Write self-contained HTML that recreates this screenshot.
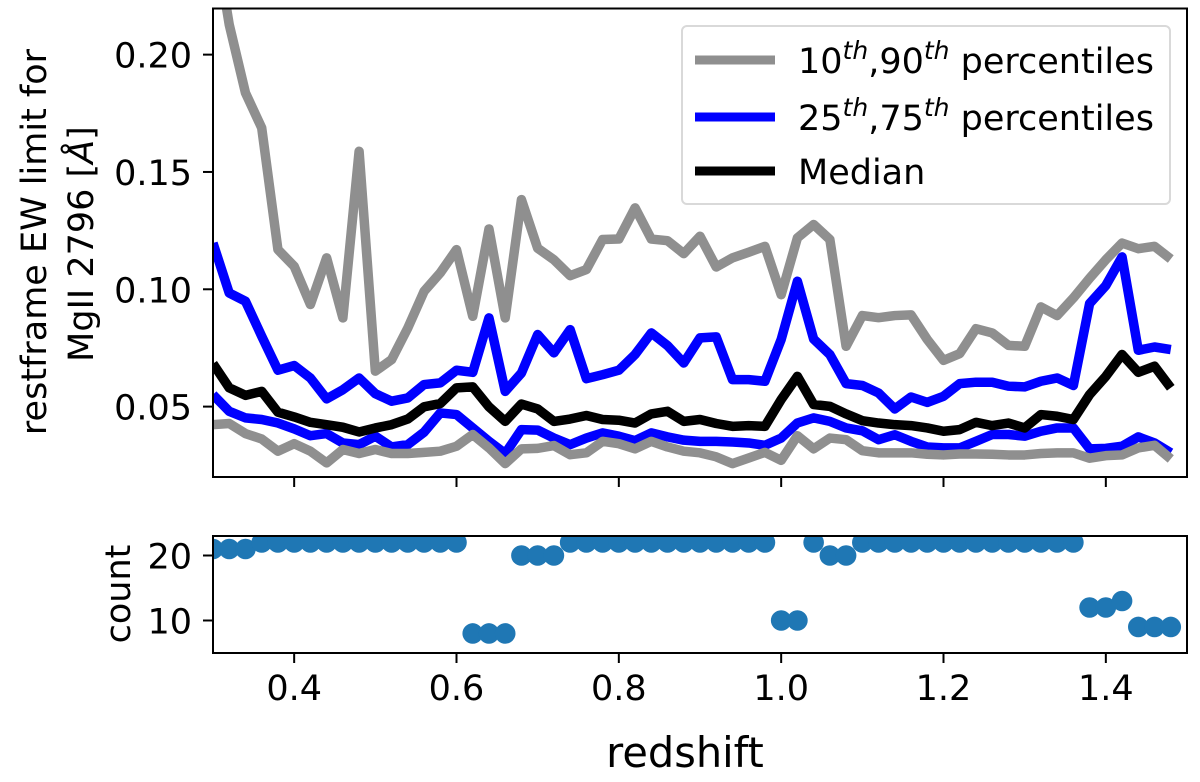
<!DOCTYPE html>
<html lang="en">
<head>
<meta charset="utf-8">
<title>Restframe EW limit for MgII 2796 vs redshift</title>
<style>
html,body{margin:0;padding:0;background:#fff;}
svg{display:block;font-family:"DejaVu Sans","Liberation Sans",sans-serif;fill:#000;}
</style>
</head>
<body>
<svg id="chart" xmlns="http://www.w3.org/2000/svg" width="1200" height="782" viewBox="0 0 1200 782">
  <defs>
    <clipPath id="clip-top"><rect x="213" y="8" width="974" height="469"/></clipPath>
    <clipPath id="clip-bottom"><rect x="213" y="536" width="974" height="117"/></clipPath>
  </defs>
  <rect x="0" y="0" width="1200" height="782" fill="#fff"/>
  <g id="top-marks" clip-path="url(#clip-top)"></g>
  <g id="bottom-marks" clip-path="url(#clip-bottom)"></g>
  <g id="ticks"></g>
  <rect x="213" y="8.5" width="974" height="468.5" fill="none" stroke="#000" stroke-width="2"/>
  <rect x="213" y="536" width="974" height="117" fill="none" stroke="#000" stroke-width="2"/>

  <g>
    <rect x="682" y="26" width="488" height="178" rx="5" fill="#fff" fill-opacity="0.8" stroke="#d9d9d9" stroke-width="2"/>
    <line x1="695" x2="775" y1="60" y2="60" stroke="#8f8f8f" stroke-width="9"/>
    <line x1="695" x2="775" y1="117" y2="117" stroke="#0000ff" stroke-width="9"/>
    <line x1="695" x2="775" y1="171" y2="171" stroke="#000" stroke-width="9"/>
    <text x="798" y="73" font-size="35">10<tspan dy="-14" font-size="25" font-style="italic">th</tspan><tspan dy="14">,90</tspan><tspan dy="-14" font-size="25" font-style="italic">th</tspan><tspan dy="14"> percentiles</tspan></text>
    <text x="798" y="130" font-size="35">25<tspan dy="-14" font-size="25" font-style="italic">th</tspan><tspan dy="14">,75</tspan><tspan dy="-14" font-size="25" font-style="italic">th</tspan><tspan dy="14"> percentiles</tspan></text>
    <text x="798" y="184" font-size="35">Median</text>
  </g>

  <text transform="translate(46,242) rotate(-90)" text-anchor="middle" font-size="35">restframe EW limit for</text>
  <text transform="translate(93,244) rotate(-90)" text-anchor="middle" font-size="35">MgII 2796 [<tspan font-style="italic">Å</tspan>]</text>
  <text transform="translate(130,594) rotate(-90)" text-anchor="middle" font-size="35">count</text>
  <text x="685" y="767" text-anchor="middle" font-size="41.5">redshift</text>
</svg>
<script>
const redshift = [0.30,0.32,0.34,0.36,0.38,0.40,0.42,0.44,0.46,0.48,0.50,0.52,0.54,0.56,0.58,0.60,0.62,0.64,0.66,0.68,0.70,0.72,0.74,0.76,0.78,0.80,0.82,0.84,0.86,0.88,0.90,0.92,0.94,0.96,0.98,1.00,1.02,1.04,1.06,1.08,1.10,1.12,1.14,1.16,1.18,1.20,1.22,1.24,1.26,1.28,1.30,1.32,1.34,1.36,1.38,1.40,1.42,1.44,1.46,1.48];
const p90 = [0.255,0.2128,0.1837,0.1688,0.1169,0.1098,0.0935,0.1134,0.0878,0.1588,0.0651,0.07,0.0835,0.0991,0.107,0.1169,0.0885,0.1257,0.0878,0.1382,0.1175,0.1126,0.1058,0.1084,0.1212,0.1214,0.1347,0.1214,0.1207,0.1152,0.1226,0.1095,0.1134,0.1158,0.1183,0.0977,0.1219,0.1276,0.1212,0.0757,0.0888,0.0879,0.0888,0.0891,0.0786,0.0697,0.0726,0.0832,0.0814,0.0761,0.0757,0.0925,0.0888,0.0963,0.1047,0.1126,0.1197,0.1173,0.1183,0.1129];
const p75 = [0.1197,0.0984,0.0949,0.08,0.0655,0.0675,0.0622,0.0533,0.0572,0.0622,0.0555,0.0523,0.0537,0.0594,0.0601,0.0655,0.0646,0.0878,0.0565,0.0643,0.0807,0.0729,0.0828,0.0619,0.0636,0.0655,0.0722,0.0814,0.076,0.0686,0.0793,0.0797,0.0615,0.0615,0.0608,0.0786,0.1034,0.0788,0.0722,0.0598,0.059,0.0558,0.049,0.0541,0.0518,0.0544,0.0598,0.0604,0.0604,0.0587,0.0584,0.0608,0.0622,0.059,0.0939,0.1016,0.1138,0.074,0.0754,0.0743];
const median = [0.0683,0.058,0.0548,0.0565,0.0476,0.0456,0.0433,0.0423,0.0412,0.0392,0.0409,0.0423,0.0447,0.0499,0.0513,0.058,0.0584,0.0499,0.0437,0.0511,0.049,0.0437,0.0447,0.0462,0.0445,0.0442,0.043,0.0469,0.048,0.0437,0.0445,0.0428,0.0416,0.0419,0.0416,0.053,0.0629,0.0509,0.0501,0.0469,0.044,0.043,0.0423,0.0419,0.0409,0.0395,0.0402,0.0433,0.0419,0.043,0.0409,0.0466,0.0459,0.0445,0.0551,0.0629,0.0722,0.0646,0.0672,0.058];
const p25 = [0.0551,0.048,0.0452,0.0445,0.043,0.0405,0.0376,0.0385,0.0345,0.0338,0.0374,0.0328,0.0338,0.0391,0.0473,0.0466,0.0409,0.0352,0.03,0.0402,0.04,0.0366,0.0338,0.0366,0.0388,0.0374,0.0355,0.0388,0.0371,0.0357,0.0352,0.0352,0.0349,0.0345,0.0335,0.0366,0.043,0.0452,0.0437,0.0409,0.0397,0.0359,0.038,0.0352,0.0328,0.0324,0.0324,0.0352,0.0381,0.0381,0.0374,0.0395,0.0409,0.0409,0.032,0.0322,0.0331,0.0371,0.0345,0.0303];
const p10 = [0.0423,0.0428,0.0385,0.0362,0.031,0.0342,0.031,0.026,0.0317,0.03,0.0317,0.03,0.03,0.0305,0.031,0.0331,0.0381,0.0324,0.0257,0.032,0.0322,0.0334,0.0295,0.0303,0.0352,0.0342,0.032,0.0352,0.0328,0.031,0.0303,0.0286,0.0257,0.0281,0.0305,0.0271,0.0376,0.032,0.0366,0.0359,0.0312,0.0303,0.0303,0.0303,0.0297,0.0294,0.0298,0.0298,0.0297,0.0294,0.0294,0.03,0.0303,0.0303,0.028,0.0291,0.0294,0.0324,0.0335,0.0277];
const counts = [21,21,21,22,22,22,22,22,22,22,22,22,22,22,22,22,8,8,8,20,20,20,22,22,22,22,22,22,22,22,22,22,22,22,22,10,10,22,20,20,22,22,22,22,22,22,22,22,22,22,22,22,22,22,12,12,13,9,9,9];
const xTickValues = [0.4,0.6,0.8,1.0,1.2,1.4];
const xTickLabels = ["0.4","0.6","0.8","1.0","1.2","1.4"];
const yTickValues = [0.05,0.10,0.15,0.20];
const yTickLabels = ["0.05","0.10","0.15","0.20"];
const countTickValues = [10,20];
const countTickLabels = ["10","20"];

const NS = "http://www.w3.org/2000/svg";
function xAxis(v){ return 213 + (v - 0.3) / 1.2 * 974; }
function yAxis(v){ return 477 - (v - 0.02) / 0.2 * 469.3; }
function countAxis(v){ return 653.5 - (v - 4.92) / 18.08 * 117.5; }
const topMarks = document.getElementById("top-marks");
const bottomMarks = document.getElementById("bottom-marks");
const ticks = document.getElementById("ticks");

function drawLine(values, color){
  const el = document.createElementNS(NS, "polyline");
  el.setAttribute("points", values.map((v, i) => xAxis(redshift[i]).toFixed(2) + "," + yAxis(v).toFixed(2)).join(" "));
  el.setAttribute("fill", "none");
  el.setAttribute("stroke", color);
  el.setAttribute("stroke-width", "9.5");
  el.setAttribute("stroke-linejoin", "round");
  topMarks.appendChild(el);
  return el;
}
let line;
line = drawLine(p75, "#0000ff");


line = drawLine(p25, "#0000ff");


line = drawLine(p90, "#8f8f8f");


line = drawLine(p10, "#8f8f8f");


line = drawLine(median, "#000000");



counts.forEach((c, i) => {
  const dot = document.createElementNS(NS, "circle");
  dot.setAttribute("cx", xAxis(redshift[i]).toFixed(2));
  dot.setAttribute("cy", countAxis(c).toFixed(2));
  dot.setAttribute("r", "10.3");
  dot.setAttribute("fill", "#1f77b4");
  
  
  bottomMarks.appendChild(dot);
});

function tickLine(x1, y1, x2, y2){
  const el = document.createElementNS(NS, "line");
  el.setAttribute("x1", x1);
  el.setAttribute("y1", y1);
  el.setAttribute("x2", x2);
  el.setAttribute("y2", y2);
  el.setAttribute("stroke", "#000");
  el.setAttribute("stroke-width", "2");
  ticks.appendChild(el);
  return el;
}
function tickText(x, y, anchor, str){
  const el = document.createElementNS(NS, "text");
  el.setAttribute("x", x);
  el.setAttribute("y", y);
  el.setAttribute("text-anchor", anchor);
  el.setAttribute("font-size", "35");
  el.textContent = str;
  ticks.appendChild(el);
  return el;
}
xTickValues.forEach((v, i) => {
  const x = xAxis(v);
  const t1 = tickLine(x, 477, x, 487);
  
  
  const t2 = tickLine(x, 653, x, 663);
  
  
  const lab = tickText(x, 700, "middle", xTickLabels[i]);
  
  
});
yTickValues.forEach((v, i) => {
  const y = yAxis(v);
  const t = tickLine(203, y, 213, y);
  
  
  const lab = tickText(192, y + 13, "end", yTickLabels[i]);
  
  
});
countTickValues.forEach((v, i) => {
  const y = countAxis(v);
  const t = tickLine(203, y, 213, y);
  
  
  const lab = tickText(192, y + 13, "end", countTickLabels[i]);
  
  
});
</script>
</body>
</html>
